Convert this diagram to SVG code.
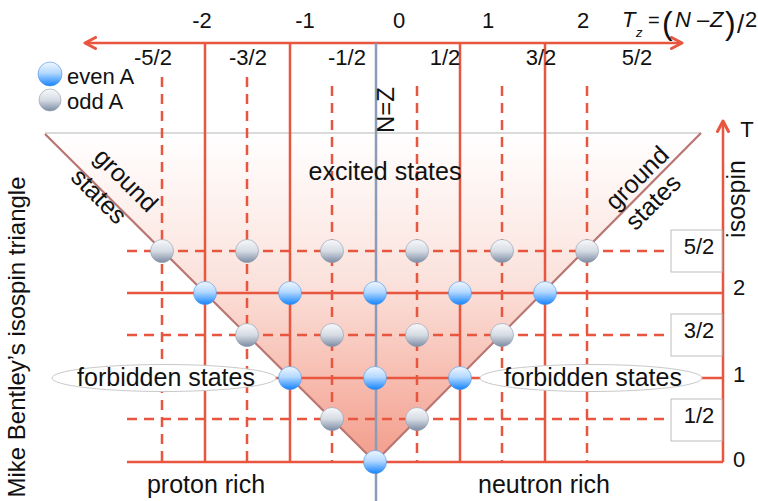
<svg xmlns="http://www.w3.org/2000/svg" width="758" height="501" viewBox="0 0 758 501">
<defs>
<style>
text{font-family:"Liberation Sans",Arial,Helvetica,sans-serif;fill:#111}
.ax{font-size:22px;text-anchor:middle}
.lb{font-size:25px;text-anchor:middle}
.solid{stroke:#e8563f;stroke-width:2.5;fill:none}
.dash{stroke:#e8563f;stroke-width:2.5;stroke-dasharray:10 7;fill:none}
.gs{stroke:#b87571;stroke-width:2.2;fill:none}
.even{fill:url(#gEven);stroke:#4d93e0;stroke-width:0.6}
.odd{fill:url(#gOdd);stroke:#8d9aae;stroke-width:0.6}
.box{fill:#fff;stroke:#bdbdbd;stroke-width:1}
.ell{fill:#fff;stroke:#c9c9c9;stroke-width:1}
</style>
<linearGradient id="gTri" gradientUnits="userSpaceOnUse" x1="0" y1="133" x2="0" y2="462">
<stop offset="0" stop-color="#ffffff"/>
<stop offset="0.45" stop-color="#fbe2dc"/>
<stop offset="1" stop-color="#f39c8a"/>
</linearGradient>
<linearGradient id="gEven" x1="0" y1="0" x2="0" y2="1">
<stop offset="0" stop-color="#f0f7ff"/>
<stop offset="0.45" stop-color="#b5d9ff"/>
<stop offset="1" stop-color="#1484ff"/>
</linearGradient>
<linearGradient id="gOdd" x1="0" y1="0" x2="0" y2="1">
<stop offset="0" stop-color="#f8f9fb"/>
<stop offset="0.5" stop-color="#d6dce4"/>
<stop offset="1" stop-color="#7d8ca3"/>
</linearGradient>
<marker id="arr" viewBox="0 0 14 14" refX="12" refY="7" markerWidth="14" markerHeight="14" markerUnits="userSpaceOnUse" orient="auto-start-reverse">
<path d="M1.5,1.5 L12,7 L1.5,12.5" fill="none" stroke="#e8563f" stroke-width="3" stroke-linecap="round" stroke-linejoin="round"/>
</marker>
</defs>

<g id="triangle">
<polygon points="45,133 701,133 375,462" fill="url(#gTri)"/>
<line x1="45" y1="133" x2="701" y2="133" stroke="#b5b5b5" stroke-width="1"/>
</g>

<g id="connectors">
<line x1="85" y1="43" x2="682" y2="43" class="solid" marker-start="url(#arr)" marker-end="url(#arr)"/>
<line x1="723" y1="462" x2="723" y2="121" class="solid" marker-end="url(#arr)"/>
<line x1="205" y1="43" x2="205" y2="462" class="solid"/>
<line x1="290" y1="43" x2="290" y2="462" class="solid"/>
<line x1="460" y1="43" x2="460" y2="462" class="solid"/>
<line x1="545" y1="43" x2="545" y2="462" class="solid"/>
<line x1="162" y1="77" x2="162" y2="462" class="dash"/>
<line x1="247" y1="77" x2="247" y2="462" class="dash"/>
<line x1="332" y1="86" x2="332" y2="462" class="dash"/>
<line x1="417" y1="86" x2="417" y2="462" class="dash"/>
<line x1="502" y1="86" x2="502" y2="462" class="dash"/>
<line x1="587" y1="86" x2="587" y2="462" class="dash"/>
<line x1="127" y1="462" x2="723" y2="462" class="solid"/>
<line x1="127" y1="378" x2="723" y2="378" class="solid"/>
<line x1="127" y1="293" x2="723" y2="293" class="solid"/>
<line x1="127" y1="419" x2="671" y2="419" class="dash"/>
<line x1="127" y1="335" x2="671" y2="335" class="dash"/>
<line x1="127" y1="251" x2="671" y2="251" class="dash"/>
<line x1="376" y1="43" x2="376" y2="501" stroke="#8a9cb8" stroke-width="2.5"/>
<line x1="45" y1="134" x2="375" y2="462" class="gs"/>
<line x1="701" y1="133" x2="375" y2="462" class="gs"/>
</g>

<g id="forbidden-left">
<ellipse cx="164" cy="378" rx="112" ry="13.5" class="ell"/>
<text x="166" y="386" class="lb">forbidden states</text>
</g>
<g id="forbidden-right">
<ellipse cx="591" cy="378" rx="111" ry="13.5" class="ell"/>
<text x="593" y="386" class="lb">forbidden states</text>
</g>

<g id="T-boxes">
<rect x="671" y="230" width="51" height="42" class="box"/>
<text x="699" y="254" class="ax">5/2</text>
<rect x="671" y="314" width="51" height="42" class="box"/>
<text x="699" y="338" class="ax">3/2</text>
<rect x="671" y="399" width="51" height="42" class="box"/>
<text x="699" y="423" class="ax">1/2</text>
</g>

<g id="odd-states">
<circle cx="162" cy="251" r="11.5" class="odd"/>
<circle cx="247" cy="251" r="11.5" class="odd"/>
<circle cx="332" cy="251" r="11.5" class="odd"/>
<circle cx="417" cy="251" r="11.5" class="odd"/>
<circle cx="502" cy="251" r="11.5" class="odd"/>
<circle cx="587" cy="251" r="11.5" class="odd"/>
<circle cx="247" cy="335" r="11.5" class="odd"/>
<circle cx="332" cy="335" r="11.5" class="odd"/>
<circle cx="417" cy="335" r="11.5" class="odd"/>
<circle cx="502" cy="335" r="11.5" class="odd"/>
<circle cx="332" cy="419" r="11.5" class="odd"/>
<circle cx="417" cy="419" r="11.5" class="odd"/>
</g>
<g id="even-states">
<circle cx="205" cy="293" r="11.5" class="even"/>
<circle cx="290" cy="293" r="11.5" class="even"/>
<circle cx="375" cy="293" r="11.5" class="even"/>
<circle cx="460" cy="293" r="11.5" class="even"/>
<circle cx="545" cy="293" r="11.5" class="even"/>
<circle cx="290" cy="378" r="11.5" class="even"/>
<circle cx="375" cy="378" r="11.5" class="even"/>
<circle cx="460" cy="378" r="11.5" class="even"/>
<circle cx="375" cy="462" r="11.5" class="even"/>
</g>

<g id="legend">
<circle cx="50" cy="74" r="12" class="even"/>
<text x="67" y="84" style="font-size:22px">even A</text>
<circle cx="50" cy="100" r="11" class="odd"/>
<text x="67" y="109" style="font-size:22px">odd A</text>
</g>

<g id="tz-labels">
<text x="202" y="28" class="ax">-2</text>
<text x="305" y="28" class="ax">-1</text>
<text x="399" y="28" class="ax">0</text>
<text x="488" y="28" class="ax">1</text>
<text x="583" y="28" class="ax">2</text>
<text x="153" y="65" class="ax">-5/2</text>
<text x="248" y="65" class="ax">-3/2</text>
<text x="347" y="65" class="ax">-1/2</text>
<text x="445" y="65" class="ax">1/2</text>
<text x="541" y="65" class="ax">3/2</text>
<text x="637" y="65" class="ax">5/2</text>
</g>

<g id="tz-formula">
<text style="font-size:22px"><tspan x="622" y="27" font-style="italic">T</tspan><tspan x="636" y="37" font-size="13" font-style="italic">z</tspan><tspan x="648" y="27" font-size="20">=</tspan><tspan x="662" y="34" font-size="32">(</tspan><tspan x="675" y="27" font-style="italic">N</tspan><tspan x="697" y="27">–</tspan><tspan x="710" y="27" font-style="italic">Z</tspan><tspan x="725" y="34" font-size="32">)</tspan><tspan x="737" y="33" font-size="26">/</tspan><tspan x="745" y="27">2</tspan></text>
</g>

<g id="t-labels">
<text x="747" y="137" class="ax">T</text>
<text x="739" y="295" class="ax">2</text>
<text x="739" y="382" class="ax">1</text>
<text x="739" y="467" class="ax">0</text>
<text transform="translate(745,199) rotate(-90)" class="lb">isospin</text>
</g>

<g id="labels">
<text transform="translate(394,110) rotate(-90)" class="lb" style="font-size:24px">N=Z</text>
<text x="385" y="180" class="lb">excited states</text>
<text transform="translate(120,186) rotate(45)" class="lb">ground</text>
<text transform="translate(93,202) rotate(45)" class="lb">states</text>
<text transform="translate(643,184) rotate(-45)" class="lb">ground</text>
<text transform="translate(659,208) rotate(-45)" class="lb">states</text>
<text x="206" y="493" class="lb">proton rich</text>
<text x="544" y="493" class="lb">neutron rich</text>
<text transform="translate(25,337) rotate(-90)" class="lb" style="font-size:24px">Mike Bentley’s isospin triangle</text>
</g>
</svg>
